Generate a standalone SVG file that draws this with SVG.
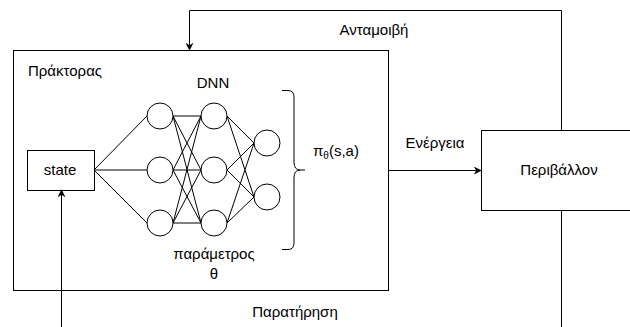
<svg xmlns="http://www.w3.org/2000/svg" width="630" height="327" viewBox="0 0 630 327">
  <style>
    .box { fill: #ffffff; stroke: #000000; stroke-width: 1; }
    .neuron { fill: #ffffff; stroke: #000000; stroke-width: 1; }
    .wire { fill: none; stroke: #000000; stroke-width: 1; }
    .lbl { font-family: "Liberation Sans", Arial, sans-serif; font-size: 15px; fill: #000000; }
    .mid { text-anchor: middle; }
  </style>
  <defs>
    <marker id="arrow" viewBox="0 0 10 10" refX="9" refY="5" markerWidth="8" markerHeight="8" markerUnits="userSpaceOnUse" orient="auto">
      <path d="M0,0 L10,5 L0,10 L3,5 Z" fill="#000000"/>
    </marker>
  </defs>

  <rect width="630" height="327" fill="#ffffff"/>

  <!-- agent -->
  <g id="agent">
    <rect class="box" x="13.5" y="50.5" width="375" height="240"/>
    <text class="lbl" x="28" y="76">Πράκτορας</text>
  </g>

  <!-- environment -->
  <g id="environment">
    <rect class="box" x="481.5" y="130.5" width="152" height="80"/>
    <text class="lbl mid" x="559" y="175">Περιβάλλον</text>
  </g>

  <!-- network wiring -->
  <g id="edges">
    <!-- input to layer 1 -->
    <path class="wire" d="M94,170 L147,116 M94,170 L147,170 M94,170 L147,223"/>
    <!-- layer 1 to layer 2 -->
    <path class="wire" d="M173,116 L201,116 M173,116 L201,170 M173,116 L201,223
                          M173,170 L201,116 M173,170 L201,170 M173,170 L201,223
                          M173,223 L201,116 M173,223 L201,170 M173,223 L201,223"/>
    <!-- layer 2 to output -->
    <path class="wire" d="M227,116 L254,143 M227,116 L254,197
                          M227,170 L254,143 M227,170 L254,197
                          M227,223 L254,143 M227,223 L254,197"/>
  </g>

  <!-- state -->
  <g id="state">
    <rect class="box" x="27.5" y="150.5" width="67" height="40"/>
    <text class="lbl mid" x="60" y="175">state</text>
  </g>

  <!-- layers -->
  <g id="layer1">
    <circle class="neuron" cx="160" cy="116" r="13"/>
    <circle class="neuron" cx="160" cy="170" r="13"/>
    <circle class="neuron" cx="160" cy="223" r="13"/>
  </g>
  <g id="layer2">
    <circle class="neuron" cx="214" cy="116" r="13"/>
    <circle class="neuron" cx="214" cy="170" r="13"/>
    <circle class="neuron" cx="214" cy="223" r="13"/>
  </g>
  <g id="layer3">
    <circle class="neuron" cx="267" cy="143" r="13"/>
    <circle class="neuron" cx="267" cy="197" r="13"/>
  </g>

  <g id="dnn-labels">
    <text class="lbl mid" x="213" y="88">DNN</text>
    <text class="lbl mid" x="214" y="259">παράμετρος</text>
    <text class="lbl mid" x="214" y="279">θ</text>
  </g>

  <!-- policy brace -->
  <g id="policy">
    <path class="wire" d="M282,90.5 L288,90.5 Q294,90.5 294,97 L294,162 Q294,170 300,170 L305,170 M300,170 Q294,170 294,178 L294,243 Q294,249.5 288,249.5 L282,249.5"/>
    <text class="lbl" x="313" y="156" font-size="14">π<tspan font-size="10" dy="3">θ</tspan><tspan dy="-3">(s,a)</tspan></text>
  </g>

  <!-- connectors -->
  <g id="connectors">
    <path class="wire" d="M561.5,130 L561.5,10.5 L189.5,10.5 L189.5,50" marker-end="url(#arrow)"/>
    <path class="wire" d="M388,170.5 L481,170.5" marker-end="url(#arrow)"/>
    <path class="wire" d="M561.5,210 L561.5,327"/>
    <path class="wire" d="M61.5,327 L61.5,190" marker-end="url(#arrow)"/>
    <text class="lbl mid" x="374" y="35">Ανταμοιβή</text>
    <text class="lbl mid" x="435" y="148">Ενέργεια</text>
    <text class="lbl mid" x="295" y="317">Παρατήρηση</text>
  </g>
</svg>
